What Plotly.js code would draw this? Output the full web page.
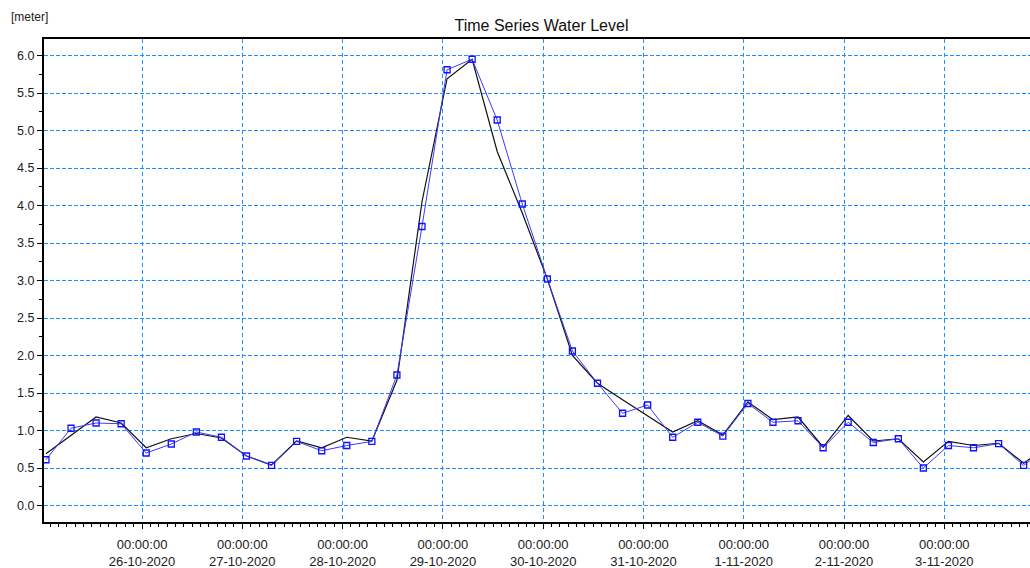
<!DOCTYPE html>
<html>
<head>
<meta charset="utf-8">
<script src="https://cdn.plot.ly/plotly-3.0.1.min.js"></script>
<style>
  html, body { margin: 0; padding: 0; background: #ffffff; }
  #chart { width: 1030px; height: 568px; }
</style>
</head>
<body>
<div id="chart"></div>
<script>
// ---- data ----
const times = [
  '2020-10-25 01:00', '2020-10-25 07:00', '2020-10-25 13:00', '2020-10-25 19:00',
  '2020-10-26 01:00', '2020-10-26 07:00', '2020-10-26 13:00', '2020-10-26 19:00',
  '2020-10-27 01:00', '2020-10-27 07:00', '2020-10-27 13:00', '2020-10-27 19:00',
  '2020-10-28 01:00', '2020-10-28 07:00', '2020-10-28 13:00', '2020-10-28 19:00',
  '2020-10-29 01:00', '2020-10-29 07:00', '2020-10-29 13:00', '2020-10-29 19:00',
  '2020-10-30 01:00', '2020-10-30 07:00', '2020-10-30 13:00', '2020-10-30 19:00',
  '2020-10-31 01:00', '2020-10-31 07:00', '2020-10-31 13:00', '2020-10-31 19:00',
  '2020-11-01 01:00', '2020-11-01 07:00', '2020-11-01 13:00', '2020-11-01 19:00',
  '2020-11-02 01:00', '2020-11-02 07:00', '2020-11-02 13:00', '2020-11-02 19:00',
  '2020-11-03 01:00', '2020-11-03 07:00', '2020-11-03 13:00', '2020-11-03 19:00',
  '2020-11-04 01:00'
];
const levelBlack = [
  0.69, 0.94, 1.18, 1.10, 0.77, 0.89, 0.96, 0.90,
  0.66, 0.54, 0.86, 0.77, 0.91, 0.86, 1.67, 4.05,
  5.69, 5.95, 4.72, 3.90, 3.02, 2.00, 1.63, 1.41,
  1.20, 0.98, 1.13, 0.94, 1.38, 1.145, 1.18, 0.78,
  1.20, 0.86, 0.89, 0.58, 0.855, 0.80, 0.83, 0.565,
  0.80
];
const levelBlue = [
  0.61, 1.03, 1.10, 1.09, 0.70, 0.82, 0.98, 0.91,
  0.66, 0.535, 0.855, 0.73, 0.80, 0.855, 1.74, 3.72,
  5.81, 5.95, 5.14, 4.02, 3.02, 2.06, 1.63, 1.23,
  1.34, 0.91, 1.11, 0.925, 1.36, 1.11, 1.13, 0.77,
  1.11, 0.84, 0.89, 0.50, 0.80, 0.77, 0.825, 0.535,
  0.78
];
const dayTicks = [
  '2020-10-26', '2020-10-27', '2020-10-28', '2020-10-29', '2020-10-30',
  '2020-10-31', '2020-11-01', '2020-11-02', '2020-11-03'
];
const dayLabels = [
  '00:00:00<br>26-10-2020', '00:00:00<br>27-10-2020', '00:00:00<br>28-10-2020',
  '00:00:00<br>29-10-2020', '00:00:00<br>30-10-2020', '00:00:00<br>31-10-2020',
  '00:00:00<br>1-11-2020', '00:00:00<br>2-11-2020', '00:00:00<br>3-11-2020'
];
const chartTitle = 'Time Series Water Level';
const unitLabel = '[meter]';

// ---- styling ----
const FONT = 'Liberation Sans Narrow, Liberation Sans, Arial, sans-serif';
const GRID = '#1E90FF';

const traces = [
  {
    x: times, y: levelBlack, type: 'scatter', mode: 'lines',
    line: { color: '#111111', width: 1.2 },
    hoverinfo: 'skip', showlegend: false
  },
  {
    x: times, y: levelBlue, type: 'scatter', mode: 'lines+markers',
    line: { color: '#3a3aff', width: 1 },
    marker: { symbol: 'square-open', size: 6, color: '#1010ff', line: { width: 1.3, color: '#1010ff' } },
    hoverinfo: 'skip', showlegend: false
  }
];

const layout = {
  width: 1030, height: 568,
  margin: { l: 44, r: 0, t: 39, b: 46, pad: 0 },
  paper_bgcolor: '#ffffff', plot_bgcolor: '#ffffff',
  font: { family: FONT, color: '#222222', size: 12 },
  title: {
    text: chartTitle,
    font: { family: FONT, size: 16, color: '#111111' },
    xref: 'container', x: 0.5257, xanchor: 'center',
    yref: 'container', y: 0.956, yanchor: 'middle'
  },
  xaxis: {
    type: 'date',
    range: ['2020-10-25 00:32', '2020-11-03 20:31'],
    tickmode: 'array', tickvals: dayTicks, ticktext: dayLabels,
    ticks: 'outside', ticklen: 5, tickwidth: 1, tickcolor: '#000000',
    ticklabelstandoff: 4,
    tickfont: { family: FONT, size: 13, color: '#222222' },
    showgrid: true, gridcolor: GRID, gridwidth: 1, griddash: '4px,3px',
    showline: true, linecolor: '#000000', linewidth: 2, mirror: true,
    zeroline: false,
    minor: {
      tickmode: 'linear', tick0: '2020-10-25 00:00', dtick: 7200000,
      ticks: 'outside', ticklen: 3, tickwidth: 1, tickcolor: '#000000',
      showgrid: false
    }
  },
  yaxis: {
    range: [-0.22, 6.22],
    tickmode: 'linear', tick0: 0, dtick: 0.5, tickformat: '.1f',
    ticks: 'outside', ticklen: 5, tickwidth: 1, tickcolor: '#000000',
    tickfont: { family: FONT, size: 12.5, color: '#222222' },
    showgrid: true, gridcolor: GRID, gridwidth: 1, griddash: '4px,2px',
    showline: true, linecolor: '#000000', linewidth: 2, mirror: false,
    zeroline: false,
    minor: {
      tickmode: 'linear', tick0: 0, dtick: 0.25,
      ticks: 'outside', ticklen: 3, tickwidth: 1, tickcolor: '#000000',
      showgrid: false
    }
  },
  annotations: [
    {
      text: unitLabel, showarrow: false,
      xref: 'paper', yref: 'paper',
      x: -0.035, xanchor: 'left',
      y: 1.045, yanchor: 'middle',
      font: { family: FONT, size: 12, color: '#222222' }
    }
  ]
};

Plotly.newPlot('chart', traces, layout, { staticPlot: true, displayModeBar: false });
</script>
</body>
</html>
